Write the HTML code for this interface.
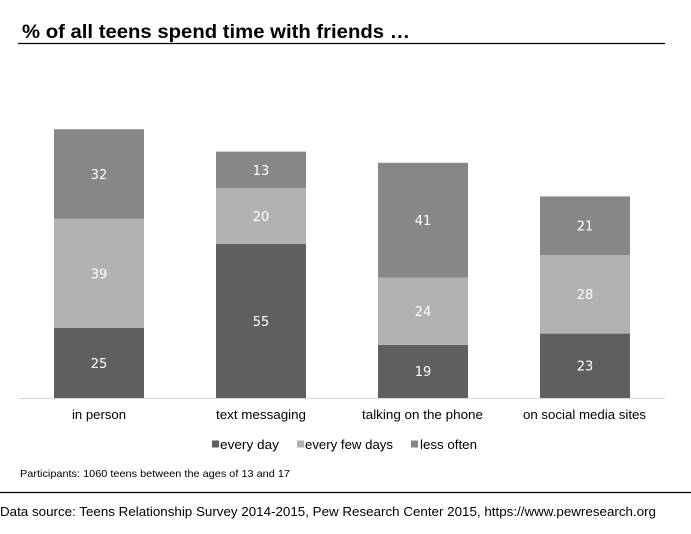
<!DOCTYPE html>
<html>
<head>
<meta charset="utf-8">
<style>
html,body{margin:0;padding:0;background:#fff;}
svg{display:block;}
text{font-family:"Liberation Sans",Arial,sans-serif;}
.v{font-family:"DejaVu Sans","Liberation Sans",sans-serif;font-size:13px;fill:#fff;text-anchor:middle;}
.c{font-size:13px;fill:#000;}
</style>
</head>
<body>
<svg width="691" height="534" viewBox="0 0 691 534" xmlns="http://www.w3.org/2000/svg">
<rect x="0" y="0" width="691" height="534" fill="#fff"/>
<!-- title -->
<text x="22" y="38" font-size="19" font-weight="bold" fill="#000" textLength="388" lengthAdjust="spacingAndGlyphs">% of all teens spend time with friends …</text>
<line x1="18" y1="43.5" x2="665" y2="43.5" stroke="#000" stroke-width="1.3"/>

<!-- bars -->
<rect x="54" y="328" width="90" height="70" fill="#5f5f5f"/>
<rect x="54" y="218.8" width="90" height="109.2" fill="#b2b2b2"/>
<rect x="54" y="129.2" width="90" height="89.6" fill="#878787"/>
<rect x="216" y="244" width="90" height="154" fill="#5f5f5f"/>
<rect x="216" y="188" width="90" height="56" fill="#b2b2b2"/>
<rect x="216" y="151.6" width="90" height="36.4" fill="#878787"/>
<rect x="378" y="344.8" width="90" height="53.2" fill="#5f5f5f"/>
<rect x="378" y="277.6" width="90" height="67.2" fill="#b2b2b2"/>
<rect x="378" y="162.8" width="90" height="114.8" fill="#878787"/>
<rect x="540" y="333.6" width="90" height="64.4" fill="#5f5f5f"/>
<rect x="540" y="255.2" width="90" height="78.4" fill="#b2b2b2"/>
<rect x="540" y="196.4" width="90" height="58.8" fill="#878787"/>

<!-- value labels -->
<text class="v" x="99" y="368">25</text>
<text class="v" x="99" y="278.5">39</text>
<text class="v" x="99" y="179">32</text>
<text class="v" x="261" y="326">55</text>
<text class="v" x="261" y="221">20</text>
<text class="v" x="261" y="175">13</text>
<text class="v" x="423" y="376">19</text>
<text class="v" x="423" y="316">24</text>
<text class="v" x="423" y="225">41</text>
<text class="v" x="585" y="370.5">23</text>
<text class="v" x="585" y="299">28</text>
<text class="v" x="585" y="230.5">21</text>

<!-- axis -->
<line x1="18" y1="398.5" x2="665" y2="398.5" stroke="#d9d9d9" stroke-width="1"/>

<!-- category labels -->
<text class="c" x="72" y="419" textLength="54" lengthAdjust="spacingAndGlyphs">in person</text>
<text class="c" x="216" y="419" textLength="90" lengthAdjust="spacingAndGlyphs">text messaging</text>
<text class="c" x="362" y="419" textLength="121" lengthAdjust="spacingAndGlyphs">talking on the phone</text>
<text class="c" x="523" y="419" textLength="123" lengthAdjust="spacingAndGlyphs">on social media sites</text>

<!-- legend -->
<rect x="212" y="440.5" width="7" height="7" fill="#5f5f5f"/>
<text class="c" x="220" y="449" textLength="59" lengthAdjust="spacingAndGlyphs">every day</text>
<rect x="297" y="440.5" width="7" height="7" fill="#b2b2b2"/>
<text class="c" x="305" y="449" textLength="88" lengthAdjust="spacingAndGlyphs">every few days</text>
<rect x="411" y="440.5" width="7" height="7" fill="#878787"/>
<text class="c" x="420" y="449" textLength="57" lengthAdjust="spacingAndGlyphs">less often</text>

<!-- participants -->
<text x="20" y="477" font-size="10.5" fill="#000" textLength="270" lengthAdjust="spacingAndGlyphs">Participants: 1060 teens between the ages of 13 and 17</text>

<line x1="0" y1="492.5" x2="691" y2="492.5" stroke="#000" stroke-width="1.2"/>

<text x="0" y="516" font-size="13" fill="#000" textLength="656" lengthAdjust="spacingAndGlyphs">Data source: Teens Relationship Survey 2014-2015, Pew Research Center 2015, https://www.pewresearch.org</text>
</svg>
</body>
</html>
